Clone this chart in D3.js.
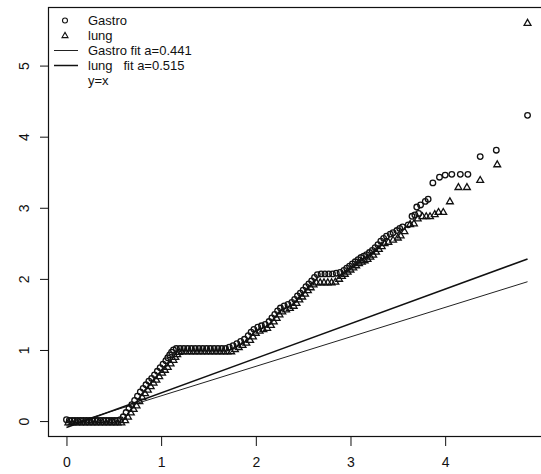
<!DOCTYPE html>
<html>
<head>
<meta charset="utf-8">
<script src="https://cdn.jsdelivr.net/npm/d3@7"></script>
<style>
html,body{margin:0;padding:0;background:#fff;}
svg{display:block;}
text{font-family:"Liberation Sans",Arial,sans-serif;fill:#111;}
</style>
</head>
<body>
<svg id="chart" width="541" height="474"></svg>
<script>
// ---- data ----
const xTicks = [0, 1, 2, 3, 4];
const yTicks = [0, 1, 2, 3, 4, 5];

const gastroX = [0.00,0.03,0.06,0.09,0.12,0.15,0.18,0.21,0.24,0.27,0.30,0.33,0.36,0.39,0.42,0.45,0.48,0.51,0.54,0.57,
  0.60,0.63,0.66,0.69,0.72,0.75,0.78,0.81,0.84,0.87,0.90,0.93,0.96,0.99,1.02,1.05,1.07,1.09,1.11,1.13,
  1.16,1.20,1.24,1.28,1.32,1.36,1.40,1.44,1.48,1.52,1.56,1.60,1.64,1.68,
  1.72,1.76,1.80,1.84,1.88,1.92,1.95,1.98,2.02,2.06,2.10,2.14,2.17,2.20,2.23,2.26,2.30,2.34,2.38,2.41,2.44,2.47,2.50,2.53,2.56,2.59,2.62,2.65,2.69,2.73,2.77,2.81,2.85,2.89,2.93,2.96,2.99,3.02,3.05,3.08,3.11,3.14,3.17,3.20,3.23,3.26,3.29,3.32,3.35,3.38,3.42,
  3.45,3.49,3.52,3.55,3.61,3.65,3.68,3.72,3.70,3.74,3.79,3.82,3.87,3.94,4.00,4.07,4.16,4.24,4.37,4.54,4.87];
const gastroY = [0.02,0.01,0.01,0.01,0.01,0.01,0.01,0.01,0.01,0.01,0.01,0.01,0.01,0.01,0.01,0.01,0.01,0.01,0.01,0.02,
  0.06,0.12,0.18,0.23,0.29,0.35,0.41,0.46,0.51,0.56,0.60,0.65,0.70,0.75,0.80,0.85,0.89,0.93,0.97,1.00,
  1.02,1.02,1.02,1.02,1.02,1.02,1.02,1.02,1.02,1.02,1.02,1.02,1.02,1.02,
  1.04,1.06,1.09,1.12,1.15,1.20,1.25,1.29,1.32,1.34,1.36,1.40,1.45,1.50,1.55,1.59,1.62,1.64,1.67,1.71,1.76,1.80,1.84,1.89,1.93,1.97,2.02,2.06,2.07,2.07,2.07,2.07,2.08,2.09,2.12,2.15,2.18,2.21,2.24,2.27,2.30,2.32,2.34,2.37,2.40,2.44,2.48,2.53,2.57,2.60,2.63,
  2.65,2.68,2.71,2.73,2.76,2.88,2.90,2.92,3.01,3.04,3.09,3.12,3.35,3.43,3.46,3.47,3.47,3.47,3.72,3.81,4.30];

const lungX = [0.02,0.06,0.10,0.14,0.18,0.22,0.26,0.30,0.34,0.38,0.42,0.46,0.50,0.54,0.58,
  0.62,0.65,0.68,0.71,0.74,0.77,0.80,0.83,0.86,0.89,0.92,0.95,0.98,1.01,1.04,1.07,1.10,1.13,1.15,1.17,1.19,
  1.22,1.26,1.30,1.34,1.38,1.42,1.46,1.50,1.54,1.58,1.62,1.66,1.70,
  1.74,1.78,1.82,1.86,1.90,1.94,1.97,2.00,2.04,2.08,2.12,2.16,2.19,2.22,2.25,2.28,2.32,2.36,2.40,2.43,2.46,2.49,2.52,2.55,2.58,2.61,2.64,2.68,2.72,2.76,2.80,2.84,2.88,2.91,2.94,2.97,3.00,3.03,3.06,3.09,3.12,3.15,3.18,3.21,3.24,3.27,3.30,3.33,3.36,3.40,
  3.45,3.50,3.53,3.57,3.63,3.67,3.71,3.76,3.80,3.84,3.89,3.93,3.98,4.05,4.14,4.23,4.37,4.55,4.87];
const lungY = [-0.02,-0.02,-0.02,-0.02,-0.02,-0.02,-0.02,-0.02,-0.02,-0.02,-0.02,-0.02,-0.02,-0.02,-0.02,
  0.01,0.06,0.12,0.17,0.22,0.28,0.34,0.39,0.44,0.49,0.54,0.58,0.63,0.68,0.72,0.76,0.81,0.86,0.90,0.94,0.97,
  0.98,0.98,0.98,0.98,0.98,0.98,0.98,0.98,0.98,0.98,0.98,0.98,0.98,
  0.98,1.01,1.04,1.07,1.10,1.14,1.19,1.24,1.27,1.29,1.31,1.35,1.40,1.45,1.50,1.54,1.57,1.59,1.62,1.66,1.71,1.75,1.79,1.84,1.88,1.92,1.95,1.95,1.95,1.95,1.95,1.96,2.00,2.04,2.07,2.10,2.13,2.16,2.19,2.22,2.24,2.26,2.28,2.31,2.34,2.38,2.42,2.46,2.50,2.52,
  2.55,2.58,2.61,2.67,2.77,2.78,2.85,2.88,2.88,2.88,2.91,2.94,2.94,3.09,3.29,3.29,3.39,3.61,5.60];

const fitX = [0, 4.87];
const gastroFitY = [-0.06, 1.96];
const lungFitY = [-0.09, 2.28];

const legendLabels = ["Gastro", "lung", "Gastro fit a=0.441", "lung   fit a=0.515", "y=x"];

// ---- drawing ----
const svg = d3.select("#chart");
const x = d3.scaleLinear().domain([-0.195, 5.065]).range([48, 546]);
const y = d3.scaleLinear().domain([-0.224, 5.824]).range([437, 7]);

// fit lines
const line = d3.line().x(d => x(d[0])).y(d => y(d[1]));
svg.append("path").datum(d3.zip(fitX, gastroFitY)).attr("d", line)
  .attr("fill", "none").attr("stroke", "#222").attr("stroke-width", 1);
svg.append("path").datum(d3.zip(fitX, lungFitY)).attr("d", line)
  .attr("fill", "none").attr("stroke", "#111").attr("stroke-width", 1.5);

// triangle path of side s centred at (0,0)
function tri(s) {
  const h = s * Math.sqrt(3) / 2;
  return `M0,${-h*0.6}L${s/2},${h*0.4}L${-s/2},${h*0.4}Z`;
}

// lung triangles
svg.append("g").selectAll("path").data(d3.zip(lungX, lungY)).join("path")
  .attr("d", tri(6.8))
  .attr("transform", d => `translate(${x(d[0])},${y(d[1])})`)
  .attr("fill", "none").attr("stroke", "#111").attr("stroke-width", 1.3);

// gastro circles
svg.append("g").selectAll("circle").data(d3.zip(gastroX, gastroY)).join("circle")
  .attr("cx", d => x(d[0])).attr("cy", d => y(d[1])).attr("r", 2.8)
  .attr("fill", "none").attr("stroke", "#111").attr("stroke-width", 1.3);

// box
svg.append("rect").attr("x", 48.5).attr("y", 7.5).attr("width", 600).attr("height", 429)
  .attr("fill", "none").attr("stroke", "#111").attr("stroke-width", 1.2);

// axes
const xAxis = d3.axisBottom(x).tickValues(xTicks).tickFormat(d3.format("d")).tickSize(9).tickPadding(11);
const gx = svg.append("g").attr("transform", "translate(0,437)").call(xAxis);
gx.select(".domain").remove();
gx.selectAll("line").attr("stroke", "#111");
gx.selectAll("text").attr("font-size", 14).attr("fill", "#111")
  .style("font-family", "Liberation Sans, Arial, sans-serif");

const yAxis = d3.axisLeft(y).tickValues(yTicks).tickFormat(d3.format("d")).tickSize(9).tickPadding(0);
const gy = svg.append("g").attr("transform", "translate(49,0)").call(yAxis);
gy.select(".domain").remove();
gy.selectAll("line").attr("stroke", "#111");
gy.selectAll("text").attr("font-size", 14).attr("fill", "#111")
  .style("font-family", "Liberation Sans, Arial, sans-serif")
  .attr("x", null).attr("dy", null)
  .attr("text-anchor", "middle")
  .attr("transform", "translate(-25,0) rotate(-90)")
  .attr("y", 5);

// legend
const rowsY = [20.5, 35.5, 50.5, 65.5, 80.5];
const lg = svg.append("g");
lg.append("circle").attr("cx", 65).attr("cy", rowsY[0]).attr("r", 2.5)
  .attr("fill", "none").attr("stroke", "#111").attr("stroke-width", 1.1);
lg.append("path").attr("d", tri(6)).attr("transform", `translate(65,${rowsY[1]})`)
  .attr("fill", "none").attr("stroke", "#111").attr("stroke-width", 1.1);
lg.append("line").attr("x1", 54).attr("x2", 78).attr("y1", rowsY[2]).attr("y2", rowsY[2])
  .attr("stroke", "#222").attr("stroke-width", 1);
lg.append("line").attr("x1", 54).attr("x2", 78).attr("y1", rowsY[3]).attr("y2", rowsY[3])
  .attr("stroke", "#111").attr("stroke-width", 1.5);
lg.selectAll("text").data(legendLabels).join("text")
  .attr("x", 88).attr("y", (d, i) => rowsY[i]).attr("dy", "0.35em")
  .attr("font-size", 13).style("white-space", "pre").attr("xml:space", "preserve")
  .text(d => d);
</script>
</body>
</html>
